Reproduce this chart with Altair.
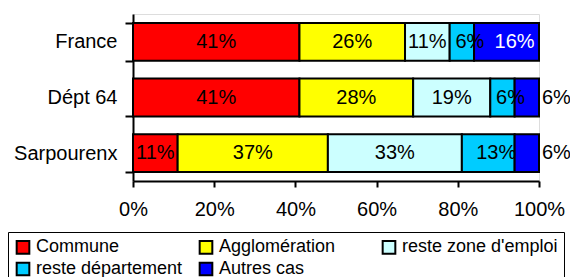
import altair as alt
import pandas as pd

places = ["France", "Dépt 64", "Sarpourenx"]
series = ["Commune", "Agglomération", "reste zone d'emploi", "reste département", "Autres cas"]
colors = ["#FF0000", "#FFFF00", "#CCFFFF", "#00CCFF", "#0000FF"]
commune = [41, 41, 11]
agglo = [26, 28, 37]
zone_emploi = [11, 19, 33]
reste_dept = [6, 6, 13]
autres = [16, 6, 6]
ticks = [0, 20, 40, 60, 80, 100]

rows = []
for si, (name, vals) in enumerate(zip(series, [commune, agglo, zone_emploi, reste_dept, autres])):
    for pi, p in enumerate(places):
        rows.append({"place": p, "serie": name, "k": si, "v": vals[pi]})
df = pd.DataFrame(rows)

FONT = "Liberation Sans"

base = (
    alt.Chart(df)
    .transform_stack(stack="v", groupby=["place"], as_=["x0", "x1"],
                     sort=[alt.SortField("k", order="ascending")])
    .transform_calculate(mid="(datum.x0 + datum.x1) / 2", label="datum.v + '%'")
)

yenc = alt.Y(
    "place:N", sort=places,
    scale=alt.Scale(paddingInner=0.32, paddingOuter=0.16),
    axis=alt.Axis(title=None, tickBand="extent", tickSize=8, tickWidth=2, tickColor="black",
                  domainColor="black", domainWidth=2, labelFontSize=20, labelColor="black",
                  labelPadding=8, labelFont=FONT),
)

bars = base.mark_bar(stroke="black", strokeWidth=2).encode(
    y=yenc,
    x=alt.X("x0:Q", scale=alt.Scale(domain=[0, 100], nice=False),
            axis=alt.Axis(title=None, values=ticks, labelExpr="datum.value + '%'", grid=False,
                          tickSize=6, tickWidth=2, tickColor="black", domainColor="black",
                          domainWidth=2, labelFontSize=20, labelColor="black", labelPadding=12,
                          labelFont=FONT, labelFlush=False, labelOverlap=False)),
    x2="x1:Q",
    color=alt.Color(
        "serie:N",
        scale=alt.Scale(domain=series, range=colors),
        legend=alt.Legend(title=None, orient="none", legendX=-125, legendY=218, columns=3,
                          gridAlign="all", symbolType="square", symbolSize=160,
                          symbolStrokeColor="black", symbolStrokeWidth=2, symbolOpacity=1,
                          labelFontSize=18, labelLimit=400, labelOffset=4, labelColor="black",
                          labelFont=FONT, columnPadding=3, rowPadding=0, padding=6,
                          strokeColor="black", direction="horizontal"),
    ),
)

inner_main = base.transform_filter("datum.k <= 2").mark_text(
    fontSize=20, font=FONT, color="black"
).encode(y=alt.Y("place:N", sort=places), x="mid:Q", text="label:N")

inner_shift = base.transform_filter(
    "datum.k == 3 || (datum.k == 4 && datum.v >= 10)"
).mark_text(fontSize=20, font=FONT, dx=8).encode(
    y=alt.Y("place:N", sort=places), x="mid:Q", text="label:N",
    color=alt.condition("datum.k == 4", alt.value("white"), alt.value("black")),
)

outside = base.transform_filter("datum.k == 4 && datum.v < 10").mark_text(
    fontSize=20, font=FONT, color="black", align="left", dx=3
).encode(y=alt.Y("place:N", sort=places), x="x1:Q", text="label:N")

chart = (
    alt.layer(bars, inner_main, inner_shift, outside)
    .properties(width=406, height=167, autosize=alt.AutoSizeParams(type="none"),
                padding={"left": 125, "top": 6, "right": 31, "bottom": 96})
    .configure_view(stroke="black", strokeWidth=2)
    .configure_legend(strokeWidth=2)
    .configure(font=FONT)
)

chart.save("out.html", embed_options={"renderer": "svg", "actions": False})
